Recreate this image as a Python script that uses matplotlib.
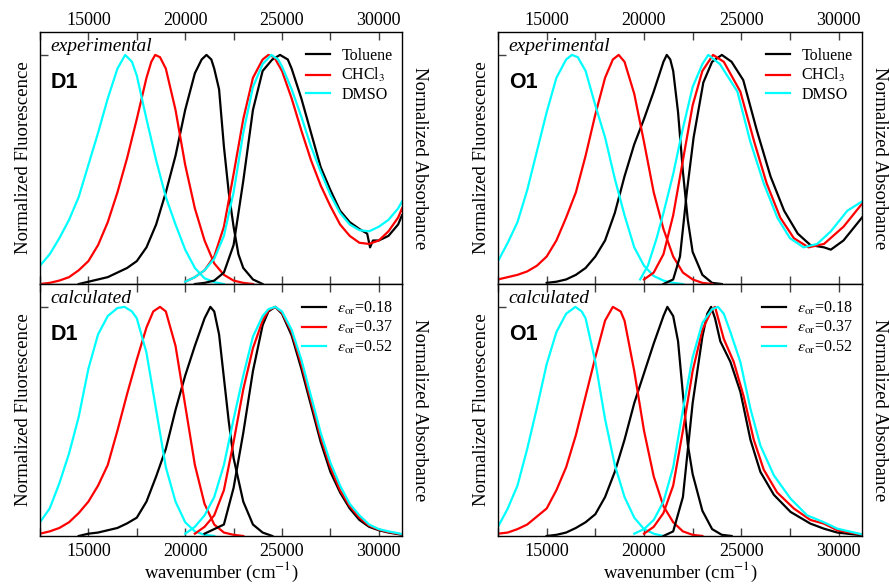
import matplotlib.pyplot as plt
from matplotlib.ticker import MultipleLocator

plt.rcParams['font.family'] = ['Liberation Serif', 'DejaVu Serif']
plt.rcParams['mathtext.fontset'] = 'stix'

# %% data: (wavenumber cm-1, normalized intensity)
solvents = ['Toluene', 'CHCl$_3$', 'DMSO']
eps_labels = [r'$\varepsilon_{\rm or}$=0.18', r'$\varepsilon_{\rm or}$=0.37', r'$\varepsilon_{\rm or}$=0.52']
colors = ['black', 'red', 'cyan']

# D1 experimental
d1_exp_fl_tol = [(14500, 0.0), (15000, 0.01), (15500, 0.02), (16000, 0.03), (16500, 0.05), (17000, 0.07),
                 (17500, 0.10), (18000, 0.16), (18500, 0.26), (19000, 0.40), (19500, 0.56), (20000, 0.76),
                 (20500, 0.92), (20850, 0.98), (21100, 1.0), (21350, 0.98), (21500, 0.94), (21750, 0.85),
                 (22000, 0.60), (22250, 0.40), (22500, 0.25), (22750, 0.13), (23000, 0.07), (23500, 0.02),
                 (24000, 0.0)]
d1_exp_fl_chcl3 = [(12500, 0.0), (13000, 0.005), (13500, 0.015), (14000, 0.03), (14500, 0.06), (15000, 0.10),
                   (15500, 0.17), (16000, 0.27), (16500, 0.40), (17000, 0.55), (17500, 0.72), (18000, 0.90),
                   (18250, 0.97), (18450, 1.0), (18700, 0.99), (19000, 0.94), (19500, 0.76), (20000, 0.52),
                   (20500, 0.33), (21000, 0.19), (21500, 0.09), (22000, 0.04), (22500, 0.015), (23000, 0.005),
                   (23500, 0.0)]
d1_exp_fl_dmso = [(12500, 0.08), (13000, 0.13), (13500, 0.20), (14000, 0.28), (14500, 0.38), (15000, 0.52),
                  (15500, 0.66), (16000, 0.81), (16500, 0.94), (16900, 1.0), (17250, 0.97), (17500, 0.91),
                  (18000, 0.72), (18500, 0.54), (19000, 0.38), (19500, 0.26), (20000, 0.15), (20500, 0.07),
                  (21000, 0.025), (21500, 0.008), (22000, 0.0)]
d1_exp_ab_tol = [(20500, 0.0), (21000, 0.005), (21500, 0.015), (22000, 0.05), (22500, 0.17), (23000, 0.45),
                 (23500, 0.76), (24000, 0.93), (24500, 0.98), (24900, 1.0), (25300, 0.98), (25500, 0.94),
                 (26000, 0.81), (26500, 0.66), (27000, 0.51), (27500, 0.41), (28000, 0.32), (28500, 0.27),
                 (29000, 0.24), (29400, 0.22), (29550, 0.16), (29700, 0.19), (30000, 0.19), (30500, 0.21),
                 (31000, 0.26), (31200, 0.30)]
d1_exp_ab_chcl3 = [(20000, 0.01), (20500, 0.03), (21000, 0.06), (21500, 0.12), (22000, 0.25), (22500, 0.48),
                   (23000, 0.72), (23500, 0.90), (24000, 0.98), (24300, 1.0), (24600, 0.99), (25000, 0.93),
                   (25500, 0.81), (26000, 0.67), (26500, 0.54), (27000, 0.43), (27500, 0.34), (28000, 0.26),
                   (28500, 0.21), (29000, 0.18), (29500, 0.175), (30000, 0.19), (30500, 0.23), (31000, 0.29),
                   (31200, 0.33)]
d1_exp_ab_dmso = [(20000, 0.01), (20500, 0.03), (21000, 0.06), (21500, 0.11), (22000, 0.21), (22500, 0.40),
                  (23000, 0.66), (23500, 0.86), (24000, 0.96), (24450, 1.0), (24800, 0.98), (25000, 0.95),
                  (25500, 0.85), (26000, 0.73), (26500, 0.60), (27000, 0.49), (27500, 0.39), (28000, 0.31),
                  (28500, 0.26), (29000, 0.235), (29500, 0.23), (30000, 0.25), (30500, 0.28), (31000, 0.33),
                  (31200, 0.36)]

# O1 experimental
o1_exp_fl_tol = [(15000, 0.005), (15500, 0.01), (16000, 0.02), (16500, 0.04), (17000, 0.07), (17500, 0.12),
                 (18000, 0.19), (18500, 0.31), (19000, 0.47), (19500, 0.61), (20000, 0.72), (20500, 0.84),
                 (21000, 0.97), (21170, 1.0), (21350, 0.98), (21500, 0.93), (21750, 0.75), (22000, 0.49),
                 (22250, 0.28), (22500, 0.14), (23000, 0.04), (23500, 0.005), (24000, 0.0)]
o1_exp_fl_chcl3 = [(12500, 0.02), (13000, 0.03), (13500, 0.04), (14000, 0.055), (14500, 0.08), (15000, 0.12),
                   (15500, 0.19), (16000, 0.29), (16500, 0.40), (17000, 0.56), (17500, 0.74), (18000, 0.90),
                   (18400, 0.98), (18700, 1.0), (19000, 0.97), (19500, 0.83), (20000, 0.62), (20500, 0.40),
                   (21000, 0.24), (21500, 0.12), (22000, 0.05), (22500, 0.02), (23000, 0.005), (23500, 0.0)]
o1_exp_fl_dmso = [(12500, 0.10), (13000, 0.18), (13500, 0.27), (14000, 0.41), (14500, 0.58), (15000, 0.75),
                  (15500, 0.90), (16000, 0.98), (16300, 1.0), (16600, 0.99), (17000, 0.93), (17500, 0.78),
                  (18000, 0.64), (18500, 0.46), (19000, 0.30), (19500, 0.16), (20000, 0.08), (20500, 0.035),
                  (21000, 0.015), (21500, 0.005), (22000, 0.0)]
o1_exp_ab_tol = [(21000, 0.0), (21500, 0.02), (21850, 0.12), (22200, 0.40), (22550, 0.64), (23050, 0.88),
                 (23500, 0.97), (24000, 1.0), (24500, 0.97), (25100, 0.89), (25800, 0.67), (26500, 0.47),
                 (27200, 0.32), (27900, 0.22), (28550, 0.17), (29250, 0.16), (29600, 0.15), (30250, 0.19),
                 (31200, 0.29)]
o1_exp_ab_chcl3 = [(20000, 0.02), (20500, 0.05), (21000, 0.13), (21500, 0.30), (22000, 0.54), (22500, 0.78),
                   (23000, 0.93), (23550, 1.0), (24100, 0.97), (24950, 0.84), (25650, 0.625), (26300, 0.44),
                   (27000, 0.29), (27700, 0.20), (28450, 0.16), (29250, 0.175), (30250, 0.25), (31200, 0.35)]
o1_exp_ab_dmso = [(19800, 0.02), (20200, 0.08), (20650, 0.20), (21000, 0.31), (21500, 0.48), (22000, 0.68),
                  (22500, 0.86), (23000, 0.96), (23300, 1.0), (23900, 0.96), (24800, 0.84), (25450, 0.625),
                  (26150, 0.44), (26850, 0.29), (27500, 0.20), (28200, 0.16), (28900, 0.175), (29600, 0.23),
                  (30450, 0.32), (31200, 0.36)]

# D1 calculated
d1_calc_fl_018 = [(14500, 0.0), (15000, 0.01), (15500, 0.015), (16000, 0.025), (16500, 0.035), (17000, 0.055),
                  (17500, 0.08), (18000, 0.15), (18500, 0.26), (19000, 0.38), (19500, 0.55), (20000, 0.70),
                  (20500, 0.83), (21000, 0.95), (21300, 1.0), (21500, 0.98), (21750, 0.88), (22000, 0.69),
                  (22250, 0.50), (22500, 0.34), (23000, 0.15), (23500, 0.05), (24000, 0.015), (24500, 0.0)]
d1_calc_fl_037 = [(12500, 0.01), (13000, 0.02), (13500, 0.035), (14000, 0.06), (14500, 0.10), (15000, 0.15),
                  (15500, 0.22), (16000, 0.31), (16500, 0.46), (17000, 0.62), (17500, 0.77), (18000, 0.91),
                  (18350, 0.98), (18700, 1.0), (19000, 0.98), (19500, 0.83), (20000, 0.57), (20500, 0.31),
                  (21000, 0.14), (21500, 0.05), (22000, 0.015), (22500, 0.005), (23000, 0.0)]
d1_calc_fl_052 = [(12500, 0.06), (13000, 0.12), (13500, 0.23), (14000, 0.36), (14500, 0.52), (15000, 0.73),
                  (15500, 0.88), (16000, 0.96), (16500, 0.995), (16870, 1.0), (17250, 0.98), (17500, 0.95),
                  (18000, 0.80), (18500, 0.55), (19000, 0.30), (19500, 0.15), (20000, 0.06), (20500, 0.02),
                  (21000, 0.005), (21500, 0.0)]
d1_calc_ab_018 = [(21000, 0.01), (21500, 0.03), (22000, 0.05), (22500, 0.21), (23000, 0.45), (23500, 0.72),
                  (24000, 0.92), (24300, 0.98), (24650, 1.0), (25000, 0.97), (25500, 0.875), (26000, 0.73),
                  (26500, 0.57), (27000, 0.41), (27500, 0.28), (28000, 0.19), (28500, 0.12), (29000, 0.07),
                  (29500, 0.04), (30000, 0.025), (30500, 0.015), (31000, 0.008), (31200, 0.005)]
d1_calc_ab_037 = [(20500, 0.01), (21000, 0.04), (21500, 0.09), (22000, 0.20), (22500, 0.41), (23000, 0.64),
                  (23500, 0.82), (24000, 0.94), (24300, 0.985), (24650, 1.0), (25000, 0.975), (25500, 0.89),
                  (26000, 0.75), (26500, 0.59), (27000, 0.43), (27500, 0.30), (28000, 0.20), (28500, 0.13),
                  (29000, 0.08), (29500, 0.045), (30000, 0.028), (30500, 0.017), (31000, 0.01), (31200, 0.006)]
d1_calc_ab_052 = [(20000, 0.01), (20500, 0.04), (21000, 0.09), (21500, 0.17), (22000, 0.31), (22500, 0.51),
                  (23000, 0.70), (23500, 0.87), (24000, 0.96), (24300, 0.99), (24650, 1.0), (25000, 0.98),
                  (25500, 0.90), (26000, 0.77), (26500, 0.61), (27000, 0.45), (27500, 0.32), (28000, 0.22),
                  (28500, 0.14), (29000, 0.09), (29500, 0.05), (30000, 0.03), (30500, 0.02), (31000, 0.012),
                  (31200, 0.008)]

# O1 calculated
o1_calc_fl_018 = [(15000, 0.0), (15500, 0.005), (16000, 0.015), (16500, 0.035), (17000, 0.06), (17500, 0.095),
                  (18000, 0.17), (18500, 0.28), (19000, 0.42), (19500, 0.58), (20000, 0.71), (20500, 0.84),
                  (21000, 0.96), (21200, 1.0), (21500, 0.96), (21750, 0.85), (22000, 0.62), (22250, 0.40),
                  (22500, 0.27), (23000, 0.11), (23500, 0.03), (24000, 0.005), (24500, 0.0)]
o1_calc_fl_037 = [(12500, 0.01), (13000, 0.015), (13500, 0.03), (14000, 0.05), (14500, 0.085), (15000, 0.12),
                  (15500, 0.20), (16000, 0.30), (16500, 0.44), (17000, 0.61), (17500, 0.78), (18000, 0.94),
                  (18400, 1.0), (18800, 0.98), (19000, 0.94), (19500, 0.72), (20000, 0.46), (20500, 0.26),
                  (21000, 0.13), (21500, 0.06), (22000, 0.02), (22500, 0.005), (23000, 0.0)]
o1_calc_fl_052 = [(12500, 0.04), (13000, 0.12), (13500, 0.22), (14000, 0.38), (14500, 0.56), (15000, 0.75),
                  (15500, 0.89), (16000, 0.97), (16475, 1.0), (16800, 0.98), (17000, 0.95), (17500, 0.76),
                  (18000, 0.51), (18500, 0.31), (19000, 0.17), (19500, 0.08), (20000, 0.03), (20500, 0.01),
                  (21000, 0.0)]
o1_calc_ab_018 = [(21000, 0.0), (21500, 0.02), (22000, 0.17), (22500, 0.58), (23000, 0.87), (23250, 0.97),
                  (23450, 1.0), (23650, 0.95), (23920, 0.85), (24440, 0.76), (24950, 0.63), (25470, 0.42),
                  (25980, 0.28), (26670, 0.18), (27530, 0.105), (28550, 0.054), (29240, 0.032), (29930, 0.015),
                  (31200, 0.003)]
o1_calc_ab_037 = [(20000, 0.01), (20500, 0.04), (21000, 0.10), (21500, 0.22), (22000, 0.46), (22500, 0.72),
                  (23000, 0.90), (23500, 0.99), (23650, 1.0), (24100, 0.86), (24610, 0.76), (25120, 0.61),
                  (25640, 0.42), (26150, 0.29), (26840, 0.19), (27700, 0.12), (28550, 0.07), (29240, 0.054),
                  (29930, 0.025), (31200, 0.006)]
o1_calc_ab_052 = [(19500, 0.01), (20000, 0.03), (20500, 0.07), (21000, 0.15), (21500, 0.30), (22000, 0.55),
                  (22500, 0.78), (23000, 0.93), (23500, 0.99), (23800, 1.0), (24100, 0.97), (24440, 0.89),
                  (24950, 0.76), (25470, 0.555), (25980, 0.395), (26670, 0.265), (27530, 0.163), (28380, 0.09),
                  (29240, 0.06), (29930, 0.032), (31200, 0.007)]

panels = [
    ('experimental', 'D1', [d1_exp_fl_tol, d1_exp_fl_chcl3, d1_exp_fl_dmso],
     [d1_exp_ab_tol, d1_exp_ab_chcl3, d1_exp_ab_dmso], solvents),
    ('experimental', 'O1', [o1_exp_fl_tol, o1_exp_fl_chcl3, o1_exp_fl_dmso],
     [o1_exp_ab_tol, o1_exp_ab_chcl3, o1_exp_ab_dmso], solvents),
    ('calculated', 'D1', [d1_calc_fl_018, d1_calc_fl_037, d1_calc_fl_052],
     [d1_calc_ab_018, d1_calc_ab_037, d1_calc_ab_052], eps_labels),
    ('calculated', 'O1', [o1_calc_fl_018, o1_calc_fl_037, o1_calc_fl_052],
     [o1_calc_ab_018, o1_calc_ab_037, o1_calc_ab_052], eps_labels),
]

# %% figure
fig = plt.figure(figsize=(8.89, 5.85), dpi=100)
rects = [[0.045, 0.5145, 0.4072, 0.4308], [0.5602, 0.5145, 0.4094, 0.4308],
         [0.045, 0.0838, 0.4072, 0.4308], [0.5602, 0.0838, 0.4094, 0.4308]]
frame = '#404040'

for i, (kind, mol, fl, ab, labels) in enumerate(panels):
    ax = fig.add_axes(rects[i])
    for pts, col, lab in zip(fl, colors, labels):
        w, v = zip(*pts)
        ax.plot(w, v, color=col, lw=1.6, label=lab)
    for pts, col in zip(ab, colors):
        w, v = zip(*pts)
        ax.plot(w, v, color=col, lw=1.6)

    ax.set_xlim(12500, 31200)
    ax.set_ylim(0, 1.1)
    ax.xaxis.set_major_locator(MultipleLocator(5000))
    ax.xaxis.set_minor_locator(MultipleLocator(2500))
    ax.set_yticks([1.0])
    ax.tick_params(axis='both', which='both', direction='in', top=True, right=True,
                   length=6, width=1, color=frame, labelleft=False, labelsize=13)
    if i < 2:
        ax.tick_params(axis='x', labeltop=True, labelbottom=False, pad=2)
    else:
        ax.tick_params(axis='x', pad=5)
        ax.set_xlabel('wavenumber (cm$^{-1}$)', fontsize=13.5, labelpad=0)
    for s in ax.spines.values():
        s.set_color(frame)
        s.set_linewidth(1)

    ax.set_ylabel('Normalized Fluorescence', fontsize=13.5, labelpad=6)
    ax2 = ax.twinx()
    ax2.set_yticks([])
    ax2.set_ylabel('Normalized Absorbance', fontsize=13.5, rotation=270, labelpad=19)

    ax.text(0.028, 0.978, kind, transform=ax.transAxes, style='italic', fontsize=14, va='top')
    ax.text(0.03, 0.80, mol, transform=ax.transAxes, fontsize=15.5, fontweight='bold',
            family='Liberation Sans', va='center')
    ax.legend(loc='upper right', bbox_to_anchor=(1.0, 0.975), frameon=False, fontsize=11.5,
              handlelength=1.5, handletextpad=0.7, labelspacing=0.15, borderaxespad=0.2)

fig.savefig('out.png', dpi=100)
